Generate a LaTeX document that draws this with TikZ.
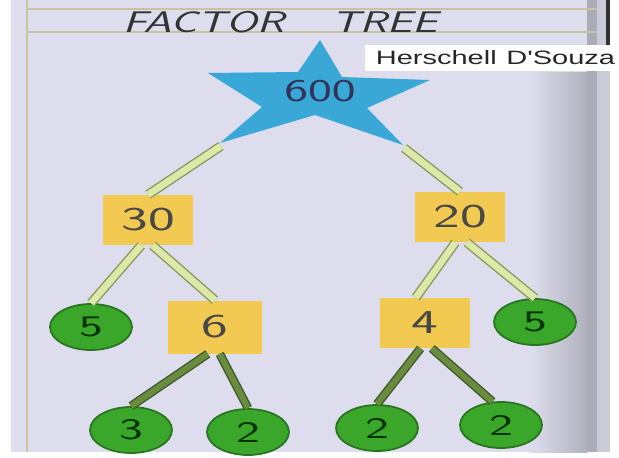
\documentclass[tikz,border=0pt]{standalone}
\usepackage{graphicx}
\usepackage{fontspec}
\newfontfamily\creditfont{Liberation Sans}
\usetikzlibrary{shapes.geometric,positioning}

\definecolor{boardbg}{RGB}{221,221,237}
\definecolor{starblue}{RGB}{58,168,214}
\definecolor{cardyellow}{RGB}{242,202,82}
\definecolor{leafgreen}{RGB}{58,166,42}
\definecolor{leafedge}{RGB}{40,116,32}
\definecolor{stickpale}{RGB}{220,233,168}
\definecolor{stickedge}{RGB}{138,152,92}
\definecolor{twiggreen}{RGB}{106,140,62}
\definecolor{twigedge}{RGB}{62,90,40}
\definecolor{ruletan}{RGB}{202,194,160}
\definecolor{inkgray}{RGB}{72,72,72}

\newcommand{\stretchtext}[2][1.7]{\scalebox{#1}[1]{#2}}

\begin{document}
\begin{tikzpicture}[x=0.02cm,y=-0.02cm,
    card/.style={fill=cardyellow,minimum width=1.8cm,minimum height=1cm,inner sep=0pt,
      font=\sffamily\fontsize{19}{19}\selectfont,text=inkgray},
    leaf/.style={ellipse,fill=leafgreen,draw=leafedge,line width=1pt,minimum width=1.64cm,
      minimum height=0.92cm,inner sep=0pt,font=\sffamily\fontsize{17}{17}\selectfont,text=black!80!green},
    stick/.style={draw=stickedge,line width=0.8pt,double=stickpale,double distance=3.8pt},
    twig/.style={draw=twigedge,line width=0.8pt,double=twiggreen,double distance=3.4pt}]
  \useasboundingbox (0,0) rectangle (619,457);
  % board
  \fill[white] (0,0) rectangle (619,457);
  \fill[boardbg] (11,0) rectangle (610,452);
  \shade[left color=boardbg,right color=black!20!boardbg] (530,72) rectangle (587,452);
  \fill[black!22!boardbg] (587,0) rectangle (597,452);
  \fill[black!8!boardbg] (597,0) rectangle (610,452);
  \draw[black!80,line width=2pt] (608,0) -- (608,45);
  \draw[ruletan,line width=1.5pt] (27,0) -- (27,452);
  \draw[ruletan,line width=1.5pt] (27,9) -- (597,9) (27,32) -- (597,32);
  \node[font=\sffamily\slshape\fontsize{17}{17}\selectfont,text=black!80] (title) at (280,22)
    {\stretchtext[1.5]{FACTOR\hspace{1.05em}TREE}};

  % star
  \fill[starblue] (320,40) -- (342,77) -- (430,80) -- (367,108) -- (403,145) -- (315,115)
    -- (220,143) -- (262,107) -- (208,73) -- (298,72) -- cycle;
  \coordinate (sbl) at (221,146);
  \coordinate (sbr) at (404,148);
  \node[font=\sffamily\fontsize{18}{18}\selectfont,text=black!75!blue!60!gray] (n600) at (320,91) {\stretchtext[1.6]{600}};
  \node[fill=white,anchor=west,minimum height=0.52cm,minimum width=5.2cm,inner xsep=6pt,
    font=\creditfont\fontsize{11}{11}\selectfont,text=black!85,align=left,text width=4.9cm] (credit) at (365,58)
    {\stretchtext[1.5]{Herschell D\textquotesingle Souza}};

  % factors
  \node[card] (b30) at (148,220) {\stretchtext{30}};
  \node[card] (b20) at (460,217) {\stretchtext{20}};
  \node[card,minimum width=1.88cm,minimum height=1.06cm] (b6) at (215,327) {\stretchtext{6}};
  \node[card] (b4) at (425,323) {\stretchtext{4}};
  \node[leaf] (c5a) at (91,327) {\stretchtext{5}};
  \node[leaf] (c5b) at (535,322) {\stretchtext{5}};
  \node[leaf] (c3) at (131,430) {\stretchtext{3}};
  \node[leaf] (c2a) at (248,432) {\stretchtext{2}};
  \node[leaf] (c2b) at (377,428) {\stretchtext{2}};
  \node[leaf] (c2c) at (501,425) {\stretchtext{2}};

  \draw[stick] (sbl) -- (b30.north);
  \draw[stick] (sbr) -- (b20.north);
  \draw[stick] (b30.-105) -- (c5a.north);
  \draw[stick] (b30.-80) -- (b6.north);
  \draw[stick] (b20.-100) -- (b4.110);
  \draw[stick] (b20.-75) -- (c5b.north);
  \draw[twig] (b6.-105) -- (c3.north);
  \draw[twig] (b6.-80) -- (c2a.north);
  \draw[twig] (b4.-100) -- (c2b.north);
  \draw[twig] (b4.-75) -- (c2c.110);
\end{tikzpicture}
\end{document}
